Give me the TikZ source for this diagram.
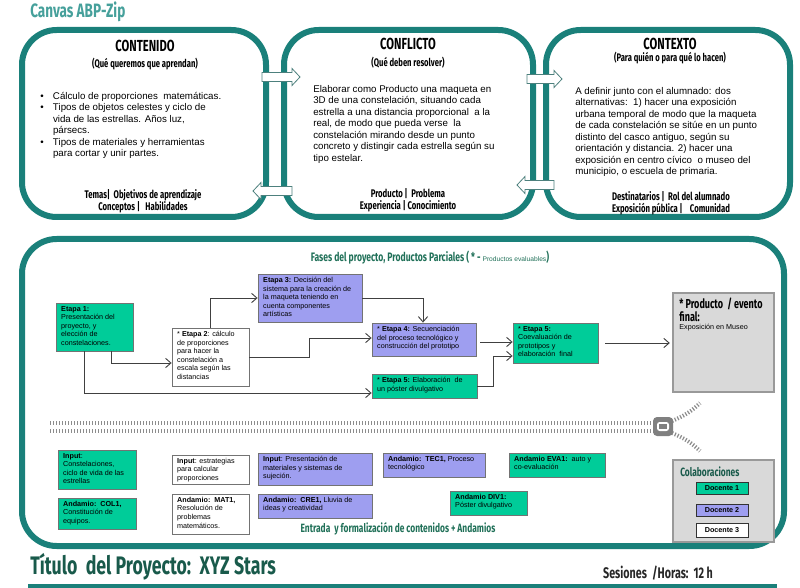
\documentclass[tikz,border=0pt]{standalone}
\usepackage{fontspec}
\setmainfont{Liberation Sans}
\newfontfamily\agency[FakeStretch=0.7]{Fira Sans}
\usetikzlibrary{arrows.meta,fit}
\definecolor{tealA}{RGB}{26,128,122}
\definecolor{tealT}{RGB}{70,160,155}
\definecolor{mint}{RGB}{0,204,153}
\definecolor{lav}{RGB}{158,158,240}
\definecolor{lgray}{RGB}{217,217,217}
\definecolor{dgreen}{RGB}{32,112,88}
\definecolor{ttl}{RGB}{25,90,75}
\newcommand\pbx[7]{%
  \node[#6, fit={(#2,#3) (#4,#5)}, inner sep=0pt] (#1) {};
  \node[txt, anchor=north west] (#1-t) at (#1.north west) {#7};}
\newcommand\rarr[3]{\draw[blk] (#1,{#3-4.5}) -- ({#2-8},{#3-4.5}) -- ({#2-8},{#3-8.5}) -- (#2,#3) -- ({#2-8},{#3+8.5}) -- ({#2-8},{#3+4.5}) -- (#1,{#3+4.5}) -- cycle;}
\newcommand\larr[3]{\draw[blk] (#2,{#3-4.5}) -- ({#1+8},{#3-4.5}) -- ({#1+8},{#3-8.5}) -- (#1,#3) -- ({#1+8},{#3+8.5}) -- ({#1+8},{#3+4.5}) -- (#2,{#3+4.5}) -- cycle;}
\newcommand\agb{\agency\bfseries\fontsize{9.7}{11.5}\selectfont}
\begin{document}
\begin{tikzpicture}[x=0.75pt,y=-0.75pt,
  frame/.style={draw=tealA, line width=4.5pt, rounded corners=26pt},
  pbase/.style={draw=black!55, line width=0.6pt},
  gbox/.style={pbase, fill=mint},
  lbox/.style={pbase, fill=lav},
  wbox/.style={pbase, fill=white},
  grbox/.style={draw=black!40, line width=0.8pt, fill=lgray},
  txt/.style={inner xsep=4pt, inner ysep=2.5pt, align=left, font=\fontsize{5.4}{6.4}\selectfont},
  big/.style={align=left, font=\fontsize{7.3}{8.6}\selectfont, inner sep=0pt},
  hd/.style={font=\agency\bfseries\fontsize{12}{13}\selectfont, inner sep=0pt},
  sub/.style={font=\agency\bfseries\fontsize{8.2}{9}\selectfont, inner sep=0pt},
  ft/.style={font=\agency\bfseries\fontsize{8.3}{9.2}\selectfont, align=center, inner sep=0pt},
  arr/.style={draw=black!75, line width=0.7pt, -{Straight Barb[length=4pt,width=7pt]}},
  blk/.style={fill=white, draw=tealA!50!gray, line width=0.6pt},
  zip/.style={draw=black!45, line width=3pt, dash pattern=on 0.9pt off 1.35pt},
  dlab/.style={font=\bfseries\fontsize{5.4}{6}\selectfont}
]
\useasboundingbox (0,0) rectangle (800,588);

\node[anchor=west, text=tealT, font=\agency\bfseries\fontsize{14.5}{15}\selectfont, inner sep=0pt] (canvas) at (30,12) {Canvas ABP-Zip};

% top frames
\draw[frame] (22,30) rectangle (266,217);
\draw[frame] (284,30) rectangle (533,217);
\draw[frame] (546,30) rectangle (790,217);

\node[hd] (h1) at (145,46) {CONTENIDO};
\node[sub] (s1) at (145,64) {(Qué queremos que aprendan)};
\node[big, anchor=north west] (t1) at (40,91) {\begin{tabular}{@{}l@{\hspace{7pt}}l@{}}
\textbullet & Cálculo de proporciones\ \ matemáticas.\\
\textbullet & Tipos de objetos celestes y ciclo de\\
 & vida de las estrellas. Años luz,\\
 & pársecs.\\
\textbullet & Tipos de materiales y herramientas\\
 & para cortar y unir partes.
\end{tabular}};
\node[ft] (f1) at (143,201) {Temas|\ \ Objetivos de aprendizaje\\Conceptos |\ \ \ Habilidades};

\node[hd] (h2) at (408,44) {CONFLICTO};
\node[sub] (s2) at (408,63) {(Qué deben resolver)};
\node[big, anchor=north west] (t2) at (313,85) {Elaborar como Producto una maqueta en\\
3D de una constelación, situando cada\\
estrella a una distancia proporcional\ \ a la\\
real, de modo que pueda verse\ \ la\\
constelación mirando desde un punto\\
concreto y distingir cada estrella según su\\
tipo estelar.};
\node[ft] (f2) at (408,200) {Producto |\ \ Problema\\Experiencia | Conocimiento};

\node[hd] (h3) at (670,44) {CONTEXTO};
\node[sub] (s3) at (670,58) {(Para quién o para qué lo hacen)};
\node[big, anchor=north west] (t3) at (575,87) {A definir junto con el alumnado: dos\\
alternativas:\ \ 1) hacer una exposición\\
urbana temporal de modo que la maqueta\\
de cada constelación se sitúe en un punto\\
distinto del casco antiguo, según su\\
orientación y distancia. 2) hacer una\\
exposición en centro cívico\ \ o museo del\\
municipio, o escuela de primaria.};
\node[ft] (f3) at (671,203) {Destinatarios |\ \ Rol del alumnado\\Exposición pública |\ \ \ \ Comunidad};

\rarr{262}{300}{77}
\larr{253}{292}{191}
\rarr{527}{562}{79}
\larr{517}{554}{185}

% bottom frame
\draw[frame] (22,239) rectangle (784,546);

\node[text=dgreen, inner sep=0pt] (fases) at (430,258) {\agency\bfseries\fontsize{9.2}{10}\selectfont Fases del proyecto, Productos Parciales (\,* - {\normalfont\mdseries\fontsize{5}{6}\selectfont Productos evaluables})};

\pbx{e1}{56}{303}{133}{351}{gbox}{\textbf{Etapa 1:}\\Presentación del\\proyecto, y\\elección de\\constelaciones.}
\pbx{e2}{172}{328}{249}{386}{wbox}{* \textbf{Etapa 2}: cálculo\\de proporciones\\para hacer la\\constelación a\\escala según las\\distancias}
\pbx{e3}{258}{274}{362}{322}{lbox}{\textbf{Etapa 3:} Decisión del\\sistema para la creación de\\la maqueta teniendo en\\cuenta componentes\\artísticas}
\pbx{e4}{372}{323}{476}{356}{lbox}{* \textbf{Etapa 4:} Secuenciación\\del proceso tecnológico y\\construcción del prototipo}
\pbx{e5p}{372}{374}{477}{398}{gbox}{* \textbf{Etapa 5:} Elaboración\ \ de\\un póster divulgativo}
\pbx{e5c}{513}{323}{598}{363}{gbox}{* \textbf{Etapa 5:}\\Coevaluación de\\prototipos y\\elaboración\ \ final}
\node[grbox, fit={(673,293) (774,392)}, inner sep=0pt] (pf) {};
\node[txt, anchor=north west, inner xsep=5pt, inner ysep=4pt] (pft) at (pf.north west) {\agb * Producto\ \ / evento\\ \agb final:\\ Exposición en Museo};

\draw[arr] (111,0 |- e1.south) |- (e2.west |- 0,363);
\draw[arr] (84,0 |- e1.south) |- (e5p.west |- 0,393);
\draw[arr] (210,0 |- e2.north) |- (e3.west |- 0,298);
\draw[arr] (e2.east |- 0,357) -- (309,357) -- (309,338) -- (e4.west |- 0,338);
\draw[arr] (e3.east |- 0,298) -| (423,0 |- e4.north);
\draw[arr] ([xshift=3pt]e4.east |- 0,342) -- (e5c.west |- 0,342);
\draw[arr] (e5p.east |- 0,386) -- (493,386) -- (493,356) -- (e5c.west |- 0,356);
\draw[arr] ([xshift=5pt]e5c.east |- 0,343) -- ([xshift=-2pt]pf.west |- 0,343);

% zipper
\draw[zip] (50,423) -- (654,423);
\draw[zip] (50,430.5) -- (654,430.5);
\draw[zip] (672,421) .. controls (684,416) and (692,411) .. (700,403);
\draw[zip] (672,433) .. controls (684,438) and (692,443) .. (700,451);
\fill[black!50, rounded corners=3pt] (653,417) rectangle (673,436);
\fill[white, rounded corners=2pt] (657,422) rectangle (669,431);
\fill[black!50] (659,424) rectangle (667,429);

% inputs
\pbx{i1}{58}{450}{136}{489}{gbox}{\textbf{Input}:\\Constelaciones,\\ciclo de vida de las\\estrellas}
\pbx{a1}{58}{498}{136}{529}{gbox}{\textbf{Andamio:\ \ COL1,}\\Constitución de\\equipos.}
\pbx{i2}{172}{455}{249}{484}{wbox}{\textbf{Input}: estrategias\\para calcular\\proporciones}
\pbx{a2}{172}{494}{249}{534}{wbox}{\textbf{Andamio:\ \ MAT1,}\\Resolución de\\problemas\\matemáticos.}
\pbx{i3}{258}{453}{372}{485}{lbox}{\textbf{Input}: Presentación de\\materiales y sistemas de\\sujeción.}
\pbx{a3}{258}{494}{372}{518}{lbox}{\textbf{Andamio:\ \ CRE1,} Lluvia de\\ideas y creatividad}
\pbx{a4}{383}{453}{485}{477}{lbox}{\textbf{Andamio:\ \ TEC1,} Proceso\\tecnológico}
\pbx{a5}{509}{453}{605}{477}{gbox}{\textbf{Andamio EVA1:}\ \ auto y\\co-evaluación}
\pbx{a6}{450}{491}{527}{515}{gbox}{\textbf{Andamio DIV1:}\\Póster divulgativo}

\node[text=dgreen, inner sep=0pt, font=\agency\bfseries\fontsize{9}{10}\selectfont] (entrada) at (398,529) {Entrada\ \ y formalización de contenidos + Andamios};

\node[grbox, fit={(673,460) (774,542)}, inner sep=0pt] (colab) {};
\node[anchor=west, inner sep=0pt, text=ttl, font=\agency\bfseries\fontsize{9}{10}\selectfont] (colabt) at (680,472) {Colaboraciones};
\node[gbox, draw=black!80, fit={(696,482) (748,494)}, inner sep=0pt] (d1) {};
\node[dlab] (d1t) at (d1) {Docente 1};
\node[lbox, draw=black!80, fit={(696,504) (748,516)}, inner sep=0pt] (d2) {};
\node[dlab] (d2t) at (d2) {Docente 2};
\node[wbox, draw=black!80, fit={(696,523) (748,537)}, inner sep=0pt] (d3) {};
\node[dlab] (d3t) at (d3) {Docente 3};

% footer
\node[anchor=west, inner sep=0pt, text=ttl, font=\agency\bfseries\fontsize{19}{20}\selectfont] (titulo) at (30,567) {Título\ \ del Proyecto:\ \ XYZ Stars};
\node[inner sep=0pt, text=black!85, font=\agency\bfseries\fontsize{11.5}{12}\selectfont] (ses) at (658,573) {Sesiones\ \ /Horas:\ \ 12 h};
\draw[tealA, line width=3pt] (28,586) -- (777,586);
\end{tikzpicture}
\end{document}
